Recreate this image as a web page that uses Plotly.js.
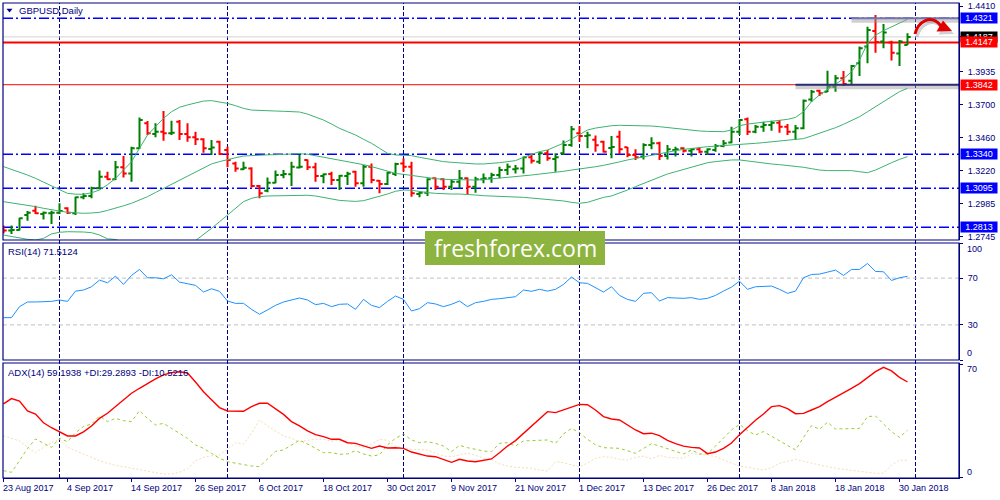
<!DOCTYPE html>
<html><head><meta charset="utf-8">
<script src="https://cdn.plot.ly/plotly-3.0.1.min.js"></script>
<style>html,body{margin:0;padding:0;background:#fff}#chart{width:1000px;height:500px}</style>
</head><body><div id="chart"></div>
<script>
// ---------------- DATA ----------------
const dates = ['2017-08-23','2017-08-24','2017-08-25','2017-08-28','2017-08-29','2017-08-30','2017-08-31',
'2017-09-01','2017-09-04','2017-09-05','2017-09-06','2017-09-07','2017-09-08','2017-09-11','2017-09-12','2017-09-13','2017-09-14','2017-09-15','2017-09-18','2017-09-19','2017-09-20','2017-09-21','2017-09-22','2017-09-25','2017-09-26','2017-09-27','2017-09-28','2017-09-29',
'2017-10-02','2017-10-03','2017-10-04','2017-10-05','2017-10-06','2017-10-09','2017-10-10','2017-10-11','2017-10-12','2017-10-13','2017-10-16','2017-10-17','2017-10-18','2017-10-19','2017-10-20','2017-10-23','2017-10-24','2017-10-25','2017-10-26','2017-10-27','2017-10-30','2017-10-31',
'2017-11-01','2017-11-02','2017-11-03','2017-11-06','2017-11-07','2017-11-08','2017-11-09','2017-11-10','2017-11-13','2017-11-14','2017-11-15','2017-11-16','2017-11-17','2017-11-20','2017-11-21','2017-11-22','2017-11-23','2017-11-24','2017-11-27','2017-11-28','2017-11-29','2017-11-30',
'2017-12-01','2017-12-04','2017-12-05','2017-12-06','2017-12-07','2017-12-08','2017-12-11','2017-12-12','2017-12-13','2017-12-14','2017-12-15','2017-12-18','2017-12-19','2017-12-20','2017-12-21','2017-12-22','2017-12-26','2017-12-27','2017-12-28','2017-12-29',
'2018-01-02','2018-01-03','2018-01-04','2018-01-05','2018-01-08','2018-01-09','2018-01-10','2018-01-11','2018-01-12','2018-01-15','2018-01-16','2018-01-17','2018-01-18','2018-01-19','2018-01-22','2018-01-23','2018-01-24','2018-01-25','2018-01-26','2018-01-29','2018-01-30','2018-01-31'];

const openP = [1.2805,1.2789,1.2793,1.2901,1.2933,1.2909,1.2914,1.2918,1.2950,1.2914,
1.3029,1.3039,1.3094,1.3178,1.3159,1.3246,1.3202,1.3383,1.3563,1.3486,
1.3503,1.3491,1.3575,1.3486,1.3462,1.3448,1.3378,1.3431,1.3371,1.3274,
1.3231,1.3238,1.3111,1.3077,1.3135,1.3190,1.3195,1.3245,1.3298,1.3246,
1.3183,1.3197,1.3154,1.3183,1.3214,1.3130,1.3250,1.3149,1.3125,1.3197,
1.3274,1.3250,1.3053,1.3063,1.3166,1.3159,1.3106,1.3142,1.3166,1.3106,
1.3159,1.3166,1.3190,1.3226,1.3231,1.3238,1.3318,1.3286,1.3347,1.3306,
1.3347,1.3407,1.3491,1.3472,1.3445,1.3431,1.3385,1.3467,1.3390,1.3335,
1.3323,1.3407,1.3419,1.3328,1.3371,1.3383,1.3366,1.3376,1.3359,1.3371,
1.3400,1.3424,1.3503,1.3592,1.3503,1.3539,1.3551,1.3568,1.3539,1.3503,
1.3527,1.3736,1.3799,1.3792,1.3828,1.3888,1.3870,1.3996,1.4117,1.4230,
1.4153,1.4146,1.4068,1.4129];
const highP = [1.2825,1.2825,1.2882,1.2930,1.2969,1.2926,1.2933,1.2986,1.2957,1.3034,
1.3058,1.3106,1.3222,1.3214,1.3291,1.3327,1.3395,1.3606,1.3580,1.3563,
1.3652,1.3582,1.3587,1.3563,1.3503,1.3455,1.3443,1.3438,1.3395,1.3286,
1.3286,1.3246,1.3118,1.3173,1.3222,1.3226,1.3286,1.3335,1.3303,1.3279,
1.3202,1.3214,1.3190,1.3214,1.3221,1.3262,1.3274,1.3154,1.3214,1.3279,
1.3311,1.3286,1.3070,1.3166,1.3173,1.3166,1.3154,1.3226,1.3173,1.3178,
1.3202,1.3207,1.3250,1.3274,1.3262,1.3323,1.3340,1.3359,1.3371,1.3347,
1.3440,1.3544,1.3542,1.3503,1.3475,1.3438,1.3472,1.3510,1.3392,1.3376,
1.3419,1.3462,1.3431,1.3407,1.3395,1.3390,1.3383,1.3390,1.3383,1.3414,
1.3443,1.3539,1.3592,1.3606,1.3551,1.3575,1.3582,1.3587,1.3558,1.3551,
1.3736,1.3804,1.3806,1.3943,1.3912,1.3941,1.3984,1.4117,1.4261,1.4345,
1.4280,1.4160,1.4165,1.4213];
const lowP = [1.2769,1.2765,1.2789,1.2861,1.2909,1.2870,1.2837,1.2909,1.2909,1.2901,
1.3015,1.3022,1.3087,1.3154,1.3154,1.3173,1.3142,1.3378,1.3479,1.3462,
1.3438,1.3479,1.3443,1.3431,1.3407,1.3351,1.3335,1.3335,1.3246,1.3214,
1.3226,1.3101,1.3022,1.3065,1.3130,1.3166,1.3111,1.3238,1.3226,1.3142,
1.3130,1.3118,1.3082,1.3118,1.3106,1.3106,1.3130,1.3058,1.3118,1.3183,
1.3214,1.3034,1.3029,1.3039,1.3082,1.3082,1.3082,1.3094,1.3053,1.3063,
1.3130,1.3135,1.3166,1.3190,1.3202,1.3202,1.3274,1.3270,1.3294,1.3214,
1.3335,1.3395,1.3431,1.3383,1.3359,1.3352,1.3311,1.3342,1.3318,1.3299,
1.3303,1.3376,1.3299,1.3303,1.3323,1.3352,1.3323,1.3347,1.3335,1.3359,
1.3390,1.3419,1.3479,1.3479,1.3491,1.3503,1.3510,1.3496,1.3479,1.3443,
1.3520,1.3719,1.3760,1.3790,1.3792,1.3833,1.3847,1.3905,1.3996,1.4073,
1.4105,1.4016,1.3977,1.4129];
const closeP = [1.2789,1.2793,1.2878,1.2918,1.2914,1.2918,1.2918,1.2930,1.2918,1.3029,
1.3039,1.3094,1.3178,1.3159,1.3246,1.3202,1.3383,1.3587,1.3491,1.3503,
1.3491,1.3496,1.3486,1.3462,1.3448,1.3383,1.3388,1.3342,1.3298,1.3238,
1.3243,1.3111,1.3058,1.3135,1.3190,1.3198,1.3250,1.3250,1.3246,1.3183,
1.3195,1.3154,1.3185,1.3200,1.3130,1.3250,1.3154,1.3125,1.3207,1.3270,
1.3250,1.3058,1.3063,1.3159,1.3106,1.3106,1.3142,1.3166,1.3106,1.3159,
1.3166,1.3190,1.3226,1.3250,1.3238,1.3318,1.3294,1.3347,1.3311,1.3318,
1.3407,1.3520,1.3472,1.3477,1.3405,1.3359,1.3393,1.3376,1.3335,1.3318,
1.3407,1.3419,1.3328,1.3376,1.3376,1.3366,1.3376,1.3359,1.3376,1.3400,
1.3419,1.3503,1.3587,1.3503,1.3539,1.3551,1.3568,1.3539,1.3503,1.3527,
1.3727,1.3792,1.3780,1.3828,1.3888,1.3847,1.3977,1.4105,1.4237,1.4150,
1.4218,1.4073,1.4153,1.4187];

const bbUpper = [1.3251,1.3232,1.3214,1.3190,1.3166,1.3139,1.3111,1.3085,1.3058,1.3052,
1.3051,1.3062,1.3082,1.3120,1.3166,1.3226,1.3286,1.3383,1.3479,1.3539,
1.3599,1.3647,1.3679,1.3696,1.3712,1.3724,1.3727,1.3717,1.3707,1.3691,
1.3671,1.3659,1.3655,1.3655,1.3652,1.3650,1.3648,1.3645,1.3630,1.3610,
1.3587,1.3558,1.3527,1.3503,1.3479,1.3448,1.3419,1.3383,1.3347,1.3335,
1.3335,1.3330,1.3318,1.3306,1.3296,1.3287,1.3282,1.3277,1.3270,1.3270,
1.3270,1.3272,1.3279,1.3287,1.3294,1.3318,1.3340,1.3359,1.3371,1.3395,
1.3420,1.3450,1.3485,1.3515,1.3529,1.3539,1.3546,1.3549,1.3549,1.3549,
1.3546,1.3544,1.3539,1.3532,1.3525,1.3518,1.3510,1.3508,1.3505,1.3503,
1.3503,1.3515,1.3546,1.3558,1.3566,1.3573,1.3580,1.3585,1.3592,1.3606,
1.3647,1.3720,1.3768,1.3809,1.3847,1.3885,1.3935,1.4020,1.4140,1.4200,
1.4232,1.4261,1.4290,1.4314];
const bbMiddle = [1.2998,1.2990,1.2981,1.2972,1.2962,1.2950,1.2938,1.2930,1.2921,1.2917,
1.2914,1.2916,1.2921,1.2935,1.2950,1.2968,1.2986,1.3010,1.3034,1.3064,
1.3094,1.3124,1.3154,1.3184,1.3214,1.3242,1.3270,1.3287,1.3303,1.3315,
1.3327,1.3331,1.3335,1.3336,1.3337,1.3340,1.3342,1.3344,1.3340,1.3330,
1.3318,1.3308,1.3299,1.3289,1.3279,1.3265,1.3251,1.3234,1.3214,1.3202,
1.3195,1.3186,1.3178,1.3171,1.3164,1.3159,1.3157,1.3154,1.3154,1.3154,
1.3157,1.3162,1.3166,1.3174,1.3178,1.3183,1.3190,1.3197,1.3202,1.3212,
1.3217,1.3226,1.3233,1.3242,1.3250,1.3260,1.3270,1.3285,1.3299,1.3311,
1.3323,1.3335,1.3347,1.3357,1.3366,1.3375,1.3383,1.3389,1.3395,1.3399,
1.3402,1.3407,1.3412,1.3416,1.3419,1.3424,1.3429,1.3434,1.3438,1.3443,
1.3453,1.3472,1.3491,1.3510,1.3532,1.3556,1.3582,1.3611,1.3647,1.3683,
1.3719,1.3756,1.3792,1.3816];
const bbLower = [1.2757,1.2745,1.2733,1.2726,1.2721,1.2733,1.2765,1.2777,1.2781,1.2781,
1.2779,1.2774,1.2757,1.2730,1.2725,1.2705,1.2680,1.2637,1.2595,1.2585,
1.2589,1.2600,1.2629,1.2672,1.2716,1.2757,1.2805,1.2853,1.2902,1.2950,
1.2998,1.3022,1.3034,1.3039,1.3040,1.3040,1.3041,1.3044,1.3044,1.3039,
1.3029,1.3017,1.3007,1.3003,1.3000,1.3005,1.3020,1.3034,1.3053,1.3073,
1.3082,1.3080,1.3070,1.3063,1.3058,1.3053,1.3053,1.3053,1.3051,1.3046,
1.3041,1.3039,1.3037,1.3034,1.3034,1.3029,1.3024,1.3020,1.3015,1.3008,
1.3003,1.2993,1.2986,1.2993,1.3010,1.3029,1.3039,1.3058,1.3082,1.3106,
1.3130,1.3154,1.3178,1.3198,1.3214,1.3231,1.3250,1.3265,1.3279,1.3287,
1.3294,1.3299,1.3299,1.3291,1.3282,1.3275,1.3270,1.3265,1.3260,1.3255,
1.3246,1.3236,1.3226,1.3222,1.3222,1.3222,1.3222,1.3214,1.3207,1.3226,
1.3255,1.3279,1.3303,1.3323];

const rsi = [36.2,36.2,45.6,49.6,49.6,49.6,50.1,51.3,50.1,58.9,
59.8,62.6,68.3,66.0,71.7,64.6,72.3,77.4,70.3,70.3,
69.4,72.8,66.6,65.2,63.8,58.1,60.9,58.7,50.4,48.4,
48.4,43.3,39.1,42.8,46.7,49.6,51.3,53.0,51.3,47.3,
48.4,45.6,47.6,47.9,43.3,51.8,46.7,44.8,50.1,54.7,
51.8,41.9,43.9,49.0,47.9,45.6,47.6,50.4,45.6,49.0,
50.1,51.8,52.4,53.3,54.1,59.8,58.7,60.4,58.9,60.4,
64.6,70.9,66.0,65.5,61.8,58.1,62.6,55.2,51.8,50.1,
57.0,57.5,50.4,53.3,53.0,52.7,53.3,51.8,52.7,55.2,
58.9,62.3,67.4,60.4,62.6,63.2,63.2,60.4,57.0,58.9,
70.3,73.1,73.4,75.1,76.8,72.3,77.4,77.4,82.5,75.7,
75.4,68.0,70.3,71.5124];

const adx = [45.6,48.9,47.4,41.2,39.3,33.9,30.8,28.2,25.7,25.7,
28.2,31.9,36.6,39.8,43.9,48.0,52.2,55.3,58.4,61.1,
63.6,65.0,65.6,64.8,59.2,53.2,48.2,43.3,41.2,41.0,
41.0,43.9,46.0,46.0,42.4,39.1,34.6,32.0,28.8,26.5,
25.3,23.6,23.6,21.5,21.1,19.6,18.0,19.4,18.2,18.4,
18.0,15.7,14.3,13.2,12.8,11.2,9.3,11.2,10.1,9.7,
10.7,11.4,15.3,19.4,22.8,27.3,31.9,36.6,40.8,40.2,
41.8,43.5,45.3,45.1,41.8,37.7,36.2,35.6,32.5,29.4,
27.1,27.4,25.9,23.0,20.9,19.4,18.6,18.2,14.7,15.7,
18.0,21.3,26.5,31.2,35.4,39.3,43.9,44.5,42.7,39.5,
39.7,41.8,43.9,47.0,49.7,52.2,55.3,58.2,61.7,65.6,
68.3,66.1,62.1,59.1938];
const plusDI = [4.1,3.1,10.3,18.0,23.8,21.1,18.6,24.2,22.1,27.7,
31.5,33.1,38.1,34.6,36.6,35.2,34.6,41.4,36.6,32.5,
33.5,30.4,27.3,24.2,20.1,18.0,14.9,11.8,9.7,8.7,
7.8,7.0,6.6,11.6,16.1,17.0,19.9,23.0,20.7,18.0,
15.3,15.3,14.3,14.5,16.5,14.5,13.2,13.9,20.1,24.2,
26.9,23.2,21.5,22.1,21.1,19.4,15.9,19.9,18.4,17.4,
16.3,15.9,21.1,21.5,19.4,22.6,22.8,22.8,23.2,21.1,
26.9,30.4,27.7,23.6,20.1,18.4,18.0,18.0,16.5,14.9,
17.9,20.9,19.4,17.6,16.1,14.5,17.0,14.5,14.5,19.4,
24.2,29.4,32.9,29.0,26.3,28.4,25.5,22.8,19.6,17.0,
24.8,32.1,29.8,34.2,30.0,30.0,30.2,30.4,37.7,38.1,
33.1,28.4,24.8,29.2893];
const minusDI = [25.7,24.2,22.6,18.6,15.3,18.6,21.5,23.6,18.6,16.5,
14.3,12.4,10.3,8.7,7.4,6.6,5.6,5.0,3.9,2.9,
2.0,2.0,3.1,5.4,10.3,12.4,13.4,13.9,17.4,21.5,
20.7,27.3,35.6,31.9,29.0,25.7,24.2,22.1,23.0,23.6,
23.6,22.4,23.0,21.1,19.4,18.8,20.7,23.6,23.0,19.4,
17.8,17.4,17.4,17.0,15.1,13.2,12.8,13.9,15.1,13.6,
12.0,11.0,8.3,7.0,6.2,6.0,5.6,4.5,3.9,9.7,
9.1,7.8,6.6,8.9,11.8,12.8,12.4,11.2,10.7,12.4,
13.1,11.5,13.6,12.4,12.0,11.8,14.7,14.3,13.9,12.8,
10.7,9.1,7.0,6.2,5.4,4.5,6.0,8.7,9.9,11.2,
9.9,8.7,7.6,6.6,5.6,5.0,4.3,3.5,2.9,2.5,
2.5,7.6,10.7,10.5216];

const labelDates = ['2017-08-23','2017-09-04','2017-09-14','2017-09-26','2017-10-06','2017-10-18','2017-10-30','2017-11-09','2017-11-21','2017-12-01','2017-12-13','2017-12-26','2018-01-08','2018-01-18','2018-01-30'];
const dateLabels = ['23 Aug 2017','4 Sep 2017','14 Sep 2017','26 Sep 2017','6 Oct 2017','18 Oct 2017','30 Oct 2017','9 Nov 2017','21 Nov 2017','1 Dec 2017','13 Dec 2017','26 Dec 2017','8 Jan 2018','18 Jan 2018','30 Jan 2018'];
const monthStarts = ['2017-09-01','2017-10-02','2017-11-01','2017-12-01','2018-01-02','2018-02-01'];
const priceTicks = [1.4410,1.4187,1.3935,1.3700,1.3460,1.3220,1.2985,1.2745];
const blueLevels = [1.4321,1.3340,1.3095,1.2813];
const redLevels = [1.4147,1.3842];
const bidPrice = 1.4187;
const trendStarts = {1.4321:'2018-01-22', 1.3842:'2018-01-11'};
const rsiLevels = [70,30];
const title = 'GBPUSD,Daily';
const rsiTitle = 'RSI(14) 71.5124';
const adxTitle = 'ADX(14) 59.1938 +DI:29.2893 -DI:10.5216';
const watermark = 'freshforex.com';

// ---------------- LAYOUT HELPERS ----------------
const NAVY = '#000080';
const FONT = '"Liberation Sans", Arial, Helvetica, sans-serif';
const PL = 3, PR = 959, PT = 3, PB = 478;
const px = x => (x - PL) / (PR - PL);
const py = y => (PB - y) / (PB - PT);
const P = (x, y) => px(x).toFixed(5) + ',' + py(y).toFixed(5);
const yMain = [1.27212, 1.44317];
const pricePerPx = (yMain[1] - yMain[0]) / (240 - 3);
const idx = d => { const k = dates.indexOf(d); return k < 0 ? dates.length : k; };

// ---------------- TRACES ----------------
const traces = [
  {type:'scatter', mode:'lines', x:dates, y:bbUpper, line:{color:'#3CB371', width:1}, xaxis:'x', yaxis:'y', hoverinfo:'skip'},
  {type:'scatter', mode:'lines', x:dates, y:bbMiddle, line:{color:'#3CB371', width:1}, xaxis:'x', yaxis:'y', hoverinfo:'skip'},
  {type:'scatter', mode:'lines', x:dates, y:bbLower, line:{color:'#3CB371', width:1}, xaxis:'x', yaxis:'y', hoverinfo:'skip'},
  {type:'ohlc', x:dates, open:openP, high:highP, low:lowP, close:closeP,
   increasing:{line:{color:'#008000', width:2}}, decreasing:{line:{color:'#FF0000', width:2}},
   tickwidth:0.4, xaxis:'x', yaxis:'y', hoverinfo:'skip'},
  {type:'scatter', mode:'lines', x:dates, y:rsi, line:{color:'#1E90FF', width:1}, xaxis:'x', yaxis:'y2', hoverinfo:'skip'},
  {type:'scatter', mode:'lines', x:dates, y:minusDI, line:{color:'#F5DEB3', width:1, dash:'2px,2px'}, xaxis:'x', yaxis:'y3', hoverinfo:'skip'},
  {type:'scatter', mode:'lines', x:dates, y:plusDI, line:{color:'#9ACD32', width:1, dash:'3px,3px'}, xaxis:'x', yaxis:'y3', hoverinfo:'skip'},
  {type:'scatter', mode:'lines', x:dates, y:adx, line:{color:'#FF0000', width:1.4}, xaxis:'x', yaxis:'y3', hoverinfo:'skip'}
];

// ---------------- SHAPES ----------------
const shapes = [];
monthStarts.forEach(d => shapes.push({type:'line', xref:'x', yref:'paper', x0:idx(d), x1:idx(d), y0:0, y1:1,
  line:{color:NAVY, width:1, dash:'4px,2px'}, layer:'below'}));
shapes.push({type:'line', xref:'paper', yref:'y', x0:0, x1:1, y0:bidPrice, y1:bidPrice, line:{color:'#D3D3D3', width:1}, layer:'below'});
blueLevels.forEach(v => shapes.push({type:'line', xref:'paper', yref:'y', x0:0, x1:1, y0:v, y1:v,
  line:{color:'#0000FF', width:1.5, dash:'10px,3px,2px,3px'}, layer:'below'}));
redLevels.forEach((v, k) => shapes.push({type:'line', xref:'paper', yref:'y', x0:0, x1:1, y0:v, y1:v,
  line:{color:'#FF0000', width:k === 0 ? 2 : 1}, layer:'below'}));
// shadowed trend segments
Object.keys(trendStarts).forEach(k => {
  const v = parseFloat(k), x0 = idx(trendStarts[k]);
  shapes.push({type:'line', xref:'x', yref:'y', x0:x0, x1:119.44, y0:v - 2.5*pricePerPx, y1:v - 2.5*pricePerPx,
    line:{color:'rgba(150,150,150,0.45)', width:4}, layer:'above'});
  shapes.push({type:'line', xref:'x', yref:'y', x0:x0, x1:119.44, y0:v, y1:v,
    line:{color: v > 1.42 ? '#7474b0' : '#2c2c78', width:2}, layer:'above'});
});
// RSI levels
rsiLevels.forEach(v => shapes.push({type:'line', xref:'paper', yref:'y2', x0:0, x1:1, y0:v, y1:v,
  line:{color:'#C0C0C0', width:1, dash:'4px,3px'}, layer:'below'}));
// panel frames
[[240, 3], [360, 243], [478, 363]].forEach(b => shapes.push({type:'rect', xref:'paper', yref:'paper',
  x0:0, x1:1, y0:py(b[0]), y1:py(b[1]), line:{color:NAVY, width:1.2}, fillcolor:'rgba(0,0,0,0)', layer:'above'}));
// title triangle
shapes.push({type:'path', xref:'paper', yref:'paper', path:'M' + P(6.5, 8.8) + ' L' + P(12.5, 8.8) + ' L' + P(9.5, 12.4) + ' Z',
  fillcolor:NAVY, line:{width:0}, layer:'above'});
// red curved arrow (with soft shadow)
const arrowShaft = (dx, dy) => 'M' + P(915+dx, 34+dy) + ' C' + P(918+dx, 22+dy) + ' ' + P(931+dx, 13+dy) + ' ' + P(941+dx, 26+dy);
const arrowHead = (dx, dy) => 'M' + P(952+dx, 31+dy) + ' L' + P(943+dx, 20.5+dy) + ' L' + P(936.5+dx, 31.5+dy) + ' Z';
shapes.push({type:'path', xref:'paper', yref:'paper', path:arrowShaft(2, 3), line:{color:'rgba(0,0,0,0.18)', width:3}, fillcolor:'rgba(0,0,0,0)', layer:'above'});
shapes.push({type:'path', xref:'paper', yref:'paper', path:arrowHead(2, 3), fillcolor:'rgba(0,0,0,0.18)', line:{width:0}, layer:'above'});
shapes.push({type:'path', xref:'paper', yref:'paper', path:arrowShaft(0, 0), line:{color:'#E00000', width:3}, fillcolor:'rgba(0,0,0,0)', layer:'above'});
shapes.push({type:'path', xref:'paper', yref:'paper', path:arrowHead(0, 0), fillcolor:'#E00000', line:{width:0}, layer:'above'});
// watermark box
shapes.push({type:'rect', xref:'paper', yref:'paper', x0:px(425), x1:px(605), y0:py(265), y1:py(231),
  fillcolor:'#8DB43E', line:{width:0}, layer:'above'});

// ---------------- ANNOTATIONS ----------------
const ann = [];
const txt = (x, y, t, opts) => Object.assign({xref:'paper', yref:'paper', x:px(x), y:py(y), text:t, showarrow:false,
  xanchor:'left', yanchor:'middle', font:{family:FONT, size:9, color:NAVY}}, opts || {});
ann.push(txt(17, 10.5, title, {font:{family:FONT, size:9.5, color:NAVY}}));
ann.push(txt(6, 251.5, rsiTitle, {font:{family:FONT, size:9.5, color:NAVY}}));
ann.push(txt(6, 372, adxTitle, {font:{family:FONT, size:9.5, color:NAVY}}));
labelDates.forEach((d, k) => ann.push({xref:'x', yref:'paper', x:idx(d), y:py(488.5), text:dateLabels[k], showarrow:false,
  xanchor:'left', yanchor:'middle', xshift:-3, font:{family:FONT, size:9, color:NAVY}}));
ann.push(txt(965, 249.3, '100'));
ann.push(txt(965, 353.3, '0'));
ann.push(txt(965, 369, '70'));
ann.push(txt(965, 472.3, '0'));
// price boxes
const box = (v, bg) => ({xref:'paper', yref:'y', x:px(979), y:v, text:v.toFixed(4), showarrow:false,
  xanchor:'center', yanchor:'middle', width:36, height:10, bgcolor:bg, borderpad:0,
  font:{family:FONT, size:9, color:'#FFFFFF'}});
ann.push(box(bidPrice, '#000000'));
ann.push(box(blueLevels[0], '#0000FF'));
ann.push(box(redLevels[0], '#FF0000'));
ann.push(box(redLevels[1], '#FF0000'));
blueLevels.slice(1).forEach(v => ann.push(box(v, '#0000FF')));
ann.push({xref:'paper', yref:'paper', x:px(515), y:py(248), text:watermark, showarrow:false,
  xanchor:'center', yanchor:'middle', font:{family:'"Open Sans", sans-serif', size:23, color:'#FFFFFF'}});

// ---------------- AXES ----------------
const yCommon = {side:'right', anchor:'x', showgrid:false, zeroline:false, ticks:'outside', ticklen:3, tickcolor:NAVY,
  ticklabelstandoff:3, showline:true, linecolor:NAVY, linewidth:1, tickfont:{family:FONT, size:9, color:NAVY}, fixedrange:true};

const layout = {
  width:1000, height:500, margin:{l:3, r:41, t:3, b:22}, paper_bgcolor:'#FFFFFF', plot_bgcolor:'#FFFFFF',
  showlegend:false, hovermode:false, font:{family:FONT, size:9, color:NAVY},
  xaxis:{type:'category', range:[-0.0625, 119.4375], anchor:'y3', showgrid:false, zeroline:false,
    tickmode:'array', tickvals:labelDates, ticktext:labelDates.map(() => ''), ticks:'outside', ticklen:3, tickcolor:NAVY,
    showline:true, linecolor:NAVY, rangeslider:{visible:false}, fixedrange:true},
  yaxis:Object.assign({}, yCommon, {domain:[py(240), 1], range:yMain, tickmode:'array', tickvals:priceTicks,
    ticktext:priceTicks.map(v => v === bidPrice ? '' : v.toFixed(4))}),
  yaxis2:Object.assign({}, yCommon, {domain:[py(360), py(243)], range:[0, 100], tickmode:'array', tickvals:[100, 70, 30, 0],
    ticktext:['', '70', '30', '']}),
  yaxis3:Object.assign({}, yCommon, {domain:[0, py(363)], range:[-0.43, 71.0], tickmode:'array', tickvals:[70, 0],
    ticktext:['', '']}),
  shapes:shapes, annotations:ann
};

Plotly.newPlot('chart', traces, layout, {staticPlot:true, displayModeBar:false});
</script>
</body></html>
